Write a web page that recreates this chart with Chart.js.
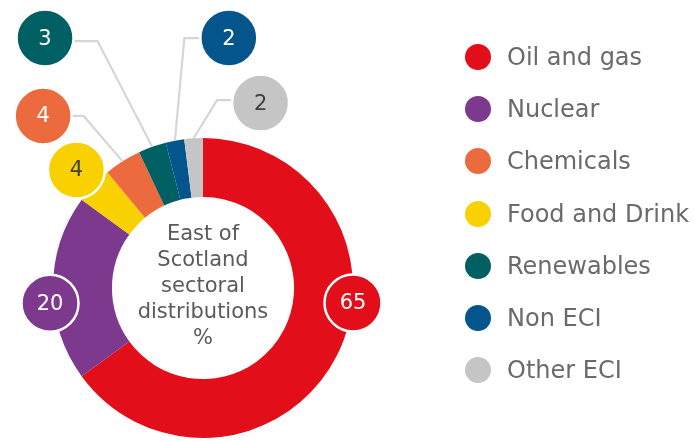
<!DOCTYPE html>
<html>
<head>
<meta charset="utf-8">
<script src="https://cdn.jsdelivr.net/npm/chart.js@4/dist/chart.umd.min.js"></script>
<style>
  html, body { margin: 0; padding: 0; background: #fff; }
  #wrap { position: relative; width: 694px; height: 441px; }
  #chart { position: absolute; left: 0; top: 0; }
  #legend { position: absolute; left: 0; top: 0; margin: 0; padding: 0; list-style: none;
            font-family: "DejaVu Sans", Verdana, sans-serif; font-size: 24px; color: #6a6a6a; }
  #legend li { position: absolute; white-space: nowrap; height: 30px; line-height: 30px; }
  #legend .dot { position: absolute; left: 0; top: 2px; width: 26px; height: 26px; border-radius: 50%; }
  #legend .txt { position: absolute; left: 42px; top: 0; }
</style>
</head>
<body>
<div id="wrap">
  <canvas id="chart" width="694" height="441"></canvas>
  <ul id="legend"></ul>
</div>
<script>
// Sector shares (%) in ring order, clockwise from 12 o'clock
const sectors = ['Oil and gas', 'Nuclear', 'Food and Drink', 'Chemicals', 'Renewables', 'Non ECI', 'Other ECI'];
const shares = [65, 20, 4, 4, 3, 2, 2];
// Order of the key on the right
const legendOrder = ['Oil and gas', 'Nuclear', 'Chemicals', 'Food and Drink', 'Renewables', 'Non ECI', 'Other ECI'];
const centreTitle = ['East of', 'Scotland', 'sectoral', 'distributions', '%'];

// Styling
const sectorColours = {
  'Oil and gas': '#E20E1A',
  'Nuclear': '#7C398D',
  'Food and Drink': '#F9D000',
  'Chemicals': '#EC6B3E',
  'Renewables': '#005F63',
  'Non ECI': '#04558C',
  'Other ECI': '#C5C5C5'
};
const darkLabel = { 'Food and Drink': true, 'Other ECI': true };
const FONT = '"DejaVu Sans", Verdana, sans-serif';

// Value badge placement: angle (deg, clockwise from top), distance (x outer radius),
// leader elbow (px, sign = side the line leaves from), leader y shift
const badgePlacement = {
  'Oil and gas':    { angle: 95.7,  dist: 1.005, elbow: 0 },
  'Nuclear':        { angle: 264.3, dist: 1.025, elbow: 0 },
  'Food and Drink': { angle: 313.0, dist: 1.154, elbow: 0 },
  'Chemicals':      { angle: 317.1, dist: 1.566, elbow: 13,  dy: 0 },
  'Renewables':     { angle: 327.7, dist: 1.971, elbow: 25,  dy: 3 },
  'Non ECI':        { angle: 5.9,   dist: 1.675, elbow: -17, dy: 0 },
  'Other ECI':      { angle: 17.3,  dist: 1.291, elbow: -16, dy: -3 }
};
const BADGE_R = 28.5;

const badgePlugin = {
  id: 'valueBadges',
  afterDatasetsDraw(chart) {
    const ctx = chart.ctx;
    const arcs = chart.getDatasetMeta(0).data;
    const badges = arcs.map((arc, i) => {
      const name = sectors[i];
      const p = badgePlacement[name];
      const R = arc.outerRadius;
      const a = p.angle * Math.PI / 180;
      const mid = (arc.startAngle + arc.endAngle) / 2;
      return {
        name, value: shares[i], p,
        cx: arc.x + p.dist * R * Math.sin(a),
        cy: arc.y - p.dist * R * Math.cos(a),
        ax: arc.x + R * Math.cos(mid),
        ay: arc.y + R * Math.sin(mid)
      };
    });
    // leader lines
    ctx.save();
    ctx.strokeStyle = '#D6D6D6';
    ctx.lineWidth = 2.2;
    ctx.lineJoin = 'miter';
    badges.forEach(b => {
      if (!b.p.elbow) return;
      const side = Math.sign(b.p.elbow);
      const y0 = b.cy + (b.p.dy || 0);
      const x0 = b.cx + side * (BADGE_R - 1);
      ctx.beginPath();
      ctx.moveTo(x0, y0);
      ctx.lineTo(x0 + b.p.elbow, y0);
      ctx.lineTo(b.ax, b.ay);
      ctx.stroke();
    });
    ctx.restore();
    // badges
    ctx.save();
    badges.forEach(b => {
      ctx.beginPath();
      ctx.arc(b.cx, b.cy, BADGE_R, 0, Math.PI * 2);
      ctx.fillStyle = sectorColours[b.name];
      ctx.fill();
      ctx.lineWidth = 2.5;
      ctx.strokeStyle = '#FFFFFF';
      ctx.stroke();
      ctx.fillStyle = darkLabel[b.name] ? '#404040' : '#FFFFFF';
      ctx.font = '21px ' + FONT;
      ctx.textAlign = 'center';
      ctx.textBaseline = 'middle';
      ctx.fillText(String(b.value), b.cx, b.cy + 1);
    });
    ctx.restore();
  }
};

const centreTextPlugin = {
  id: 'centreText',
  afterDatasetsDraw(chart) {
    const arc = chart.getDatasetMeta(0).data[0];
    const ctx = chart.ctx;
    const lh = 26;
    ctx.save();
    ctx.font = '21px ' + FONT;
    ctx.fillStyle = '#5A5A5A';
    ctx.textAlign = 'center';
    ctx.textBaseline = 'middle';
    const top = arc.y - lh * (centreTitle.length - 1) / 2 - 1;
    centreTitle.forEach((line, i) => ctx.fillText(line, arc.x, top + i * lh));
    ctx.restore();
  }
};

new Chart(document.getElementById('chart'), {
  type: 'doughnut',
  data: {
    labels: sectors,
    datasets: [{
      data: shares,
      backgroundColor: sectors.map(s => sectorColours[s]),
      borderWidth: 0
    }]
  },
  options: {
    responsive: false,
    animation: false,
    cutout: '60.7%',
    layout: { padding: { left: 53, right: 341, top: 138, bottom: 3 } },
    plugins: { legend: { display: false }, tooltip: { enabled: false } }
  },
  plugins: [badgePlugin, centreTextPlugin]
});

// Key on the right
const legendEl = document.getElementById('legend');
legendOrder.forEach((name, i) => {
  const li = document.createElement('li');
  li.style.left = '465px';
  li.style.top = (42 + i * 52.2) + 'px';
  li.innerHTML = '<span class="dot" style="background:' + sectorColours[name] + '"></span><span class="txt"></span>';
  li.querySelector('.txt').textContent = name;
  legendEl.appendChild(li);
});
</script>
</body>
</html>
